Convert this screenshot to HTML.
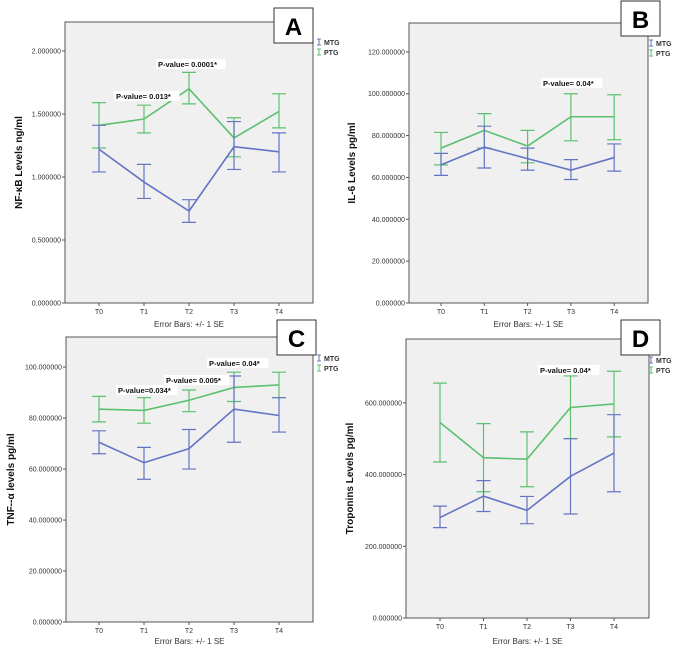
<!DOCTYPE html>
<html><head><meta charset="utf-8">
<style>
body{margin:0;background:#fff;width:677px;height:651px;overflow:hidden;font-family:"Liberation Sans",Arial,sans-serif}
svg{display:block}
</style></head>
<body>
<svg id="fig" width="677" height="651" viewBox="0 0 677 651" xmlns="http://www.w3.org/2000/svg"></svg>
<script>
const categories = ["T0","T1","T2","T3","T4"];
// Panel A: NF-kB
const aMtgMean = [1.22,0.96,0.73,1.24,1.20];
const aMtgLow  = [1.04,0.83,0.64,1.06,1.04];
const aMtgHigh = [1.41,1.10,0.82,1.44,1.35];
const aPtgMean = [1.41,1.46,1.70,1.31,1.52];
const aPtgLow  = [1.23,1.35,1.58,1.16,1.39];
const aPtgHigh = [1.59,1.57,1.83,1.47,1.66];
const aTicks = [0,0.5,1.0,1.5,2.0];
// Panel B: IL-6
const bMtgMean = [66,74.5,69,63.5,69.5];
const bMtgLow  = [61,64.5,63.5,59,63];
const bMtgHigh = [71.5,84.5,74,68.5,76];
const bPtgMean = [74,82.5,75,89,89];
const bPtgLow  = [66,74,67,77.5,78];
const bPtgHigh = [81.5,90.5,82.5,100,99.5];
const bTicks = [0,20,40,60,80,100,120];
// Panel C: TNF-a
const cMtgMean = [70.5,62.5,68,83.5,81];
const cMtgLow  = [66,56,60,70.5,74.5];
const cMtgHigh = [75,68.5,75.5,96.5,88];
const cPtgMean = [83.5,83,87,92,93];
const cPtgLow  = [78.5,78,82.5,86.5,88];
const cPtgHigh = [88.5,88,91,98,98];
const cTicks = [0,20,40,60,80,100];
// Panel D: Troponins
const dMtgMean = [280,340,300,395,460];
const dMtgLow  = [252,297,263,290,352];
const dMtgHigh = [312,383,339,500,567];
const dPtgMean = [545,447,443,587,597];
const dPtgLow  = [435,352,366,500,505];
const dPtgHigh = [655,542,519,675,688];
const dTicks = [0,200,400,600];

const NS="http://www.w3.org/2000/svg";
const svg=document.getElementById('fig');
const BLUE="#6474c4", GREEN="#5cc070";
function mk(tag,attrs,parent){const e=document.createElementNS(NS,tag);for(const k in attrs)e.setAttribute(k,attrs[k]);(parent||svg).appendChild(e);return e;}
function txt(s,attrs,parent){const e=mk('text',attrs,parent);e.textContent=s;return e;}

function panel(p){
  const g=mk('g',{});
  
  
  const y=v=>p.bottom-(v-0)/(p.yMax)*(p.bottom-p.top);
  const x=i=>p.x0+i*p.dx;
  const bg=mk('rect',{x:p.left,y:p.top,width:p.right-p.left,height:p.bottom-p.top,fill:'#f0f0f0',stroke:'#555','stroke-width':1},g);
  
  
  p.ticks.forEach(t=>{
    const yy=y(t);
    mk('line',{x1:p.left-3,x2:p.left,y1:yy,y2:yy,stroke:'#555'},g);
    const l=txt(t.toFixed(6),{x:p.left-4,y:yy+2.5,'font-size':7,'text-anchor':'end',fill:'#333'},g);
    
    
  });
  categories.forEach((c,i)=>{
    mk('line',{x1:x(i),x2:x(i),y1:p.bottom,y2:p.bottom+3,stroke:'#555'},g);
    const l=txt(c,{x:x(i),y:p.bottom+11,'font-size':7,'text-anchor':'middle',fill:'#333'},g);
    
    
  });
  const series=[[p.pm,p.pl,p.ph,GREEN,'ptg'],[p.mm,p.ml,p.mh,BLUE,'mtg']];
  series.forEach(([m,lo,hi,col,nm])=>{
    lo.forEach((v,i)=>{
      const eb=mk('path',{d:`M${x(i)-7},${y(hi[i])}H${x(i)+7}M${x(i)},${y(hi[i])}V${y(v)}M${x(i)-7},${y(v)}H${x(i)+7}`,stroke:col,'stroke-width':1.2,fill:'none'},g);
      
      
    });
    const ln=mk('polyline',{points:m.map((v,i)=>x(i)+','+y(v)).join(' '),stroke:col,'stroke-width':1.6,fill:'none'},g);
    
    
  });
  const yt=txt(p.ytitle,{x:0,y:0,'font-size':10,'font-weight':'bold','text-anchor':'middle',fill:'#111',transform:`translate(${p.ytx},${(p.top+p.bottom)/2}) rotate(-90)`},g);
  
  
  const eb=txt('Error Bars: +/- 1 SE',{x:(p.left+p.right)/2,y:p.ebY,'font-size':8,'text-anchor':'middle',fill:'#333'},g);
  
  
  // legend
  [['MTG',BLUE],['PTG',GREEN]].forEach(([n,c],k)=>{
    const ly=p.legY+k*10;
    mk('path',{d:`M${p.legX-2},${ly-6}H${p.legX+2}M${p.legX},${ly-6}V${ly}M${p.legX-2},${ly}H${p.legX+2}`,stroke:c,'stroke-width':1,fill:'none'},g);
    const t=txt(n,{x:p.legX+5,y:ly,'font-size':7,'font-weight':'bold',fill:'#333'},g);
    
    
  });
  // letter box
  mk('rect',{x:p.bx,y:p.by,width:39,height:35,fill:'#fff',stroke:'#333','stroke-width':1},g);
  const L=txt(p.letter,{x:p.bx+19.5,y:p.by+27,'font-size':24,'font-weight':'bold','text-anchor':'middle',fill:'#000'},g);
  
  
  p.pvals.forEach(([s,px,py])=>{
    const w=s.length*4.1;
    mk('rect',{x:px-2,y:py-8,width:w+4,height:10,fill:'#fff'},g);
    const t=txt(s,{x:px,y:py,'font-size':7.5,'font-weight':'bold',fill:'#111'},g);
    
    
  });
}

panel({letter:'A',left:65,right:313,top:22,bottom:303,yMax:2.23,x0:99,dx:45,ticks:aTicks,
  mm:aMtgMean,ml:aMtgLow,mh:aMtgHigh,pm:aPtgMean,pl:aPtgLow,ph:aPtgHigh,
  ytitle:'NF-κB Levels ng/ml',ytx:22,ebY:327,legX:319,legY:45,bx:274,by:8,
  pvals:[['P-value= 0.0001*',158,67],['P-value= 0.013*',116,99]]});
panel({letter:'B',left:409,right:648,top:23,bottom:303,yMax:133.8,x0:441,dx:43.3,ticks:bTicks,
  mm:bMtgMean,ml:bMtgLow,mh:bMtgHigh,pm:bPtgMean,pl:bPtgLow,ph:bPtgHigh,
  ytitle:'IL-6 Levels pg/ml',ytx:355,ebY:327,legX:651,legY:46,bx:621,by:1,
  pvals:[['P-value= 0.04*',543,86]]});
panel({letter:'C',left:66,right:313,top:337,bottom:622,yMax:111.8,x0:99,dx:45,ticks:cTicks,
  mm:cMtgMean,ml:cMtgLow,mh:cMtgHigh,pm:cPtgMean,pl:cPtgLow,ph:cPtgHigh,
  ytitle:'TNF--α levels pg/ml',ytx:14,ebY:644,legX:319,legY:361,bx:277,by:320,
  pvals:[['P-value=0.034*',118,393],['P-value= 0.005*',166,383],['P-value= 0.04*',209,366]]});
panel({letter:'D',left:406,right:649,top:339,bottom:618,yMax:778,x0:440,dx:43.5,ticks:dTicks,
  mm:dMtgMean,ml:dMtgLow,mh:dMtgHigh,pm:dPtgMean,pl:dPtgLow,ph:dPtgHigh,
  ytitle:'Troponins Levels pg/ml',ytx:353,ebY:644,legX:651,legY:363,bx:621,by:320,
  pvals:[['P-value= 0.04*',540,373]]});
// top Error Bars notes above C and D
[[208,325],[527,325]].forEach(()=>{});
</script>
</body></html>
